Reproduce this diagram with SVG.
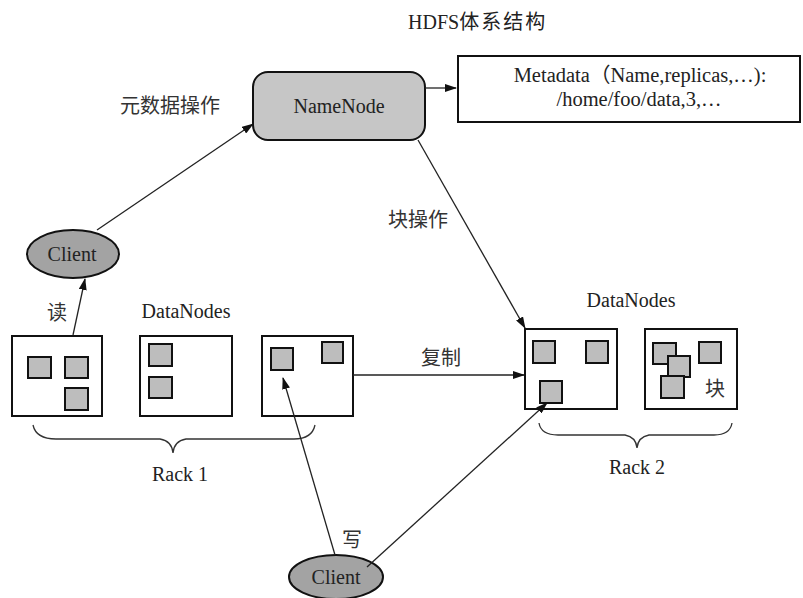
<svg xmlns="http://www.w3.org/2000/svg" width="803" height="598" viewBox="0 0 803 598">
<style>
.t{font-family:"Liberation Serif","Times New Roman","DejaVu Serif",serif;font-size:20px;fill:#222}
.c{font-family:"Noto Sans CJK SC",sans-serif;font-size:20px;fill:#333}
.box{fill:#fff;stroke:#111;stroke-width:2}
.blk{fill:#bdbdbd;stroke:#111;stroke-width:2}
.ln{fill:none;stroke:#222;stroke-width:1.3}
.br{fill:none;stroke:#333;stroke-width:1.3}
</style>
<defs>
<marker id="ah" markerWidth="12" markerHeight="8" refX="11" refY="4" orient="auto" markerUnits="userSpaceOnUse">
<path d="M0,0 L12,4 L0,8 Z" fill="#111"/>
</marker>
</defs>
<rect width="803" height="598" fill="#fff"/>
<text class="t" x="408" y="29">HDFS<tspan style="font-family:'Noto Sans CJK SC',sans-serif;font-size:20px;letter-spacing:2px">体系结构</tspan></text>

<g id="namenode">
<rect x="253" y="72" width="172" height="68" rx="15" fill="#c6c6c6" stroke="#111" stroke-width="2"/>
<text class="t" x="339" y="113" text-anchor="middle">NameNode</text>
</g>

<g id="metadata">
<rect class="box" x="458" y="56" width="342" height="66"/>
<text class="t" x="640" y="82" text-anchor="middle" style="font-size:20.5px">Metadata<tspan style="font-family:'Noto Sans CJK SC',sans-serif">（</tspan>Name,replicas,…):</text>
<text class="t" x="639" y="106" text-anchor="middle" style="font-size:20.5px">/home/foo/data,3,…</text>
</g>

<g id="client1">
<ellipse cx="73" cy="254" rx="46" ry="24" fill="#a3a3a3" stroke="#111" stroke-width="2"/>
<text class="t" x="72" y="261" text-anchor="middle">Client</text>
</g>

<g id="client2">
<ellipse cx="336" cy="577" rx="47" ry="22" fill="#a3a3a3" stroke="#111" stroke-width="2"/>
<text class="t" x="336" y="584" text-anchor="middle">Client</text>
</g>

<g id="rack1">
<text class="t" x="186" y="318" text-anchor="middle">DataNodes</text>
<rect class="box" x="12" y="336" width="90" height="80"/>
<rect class="blk" x="28" y="357" width="23" height="21"/>
<rect class="blk" x="65" y="357" width="23" height="21"/>
<rect class="blk" x="65" y="388" width="23" height="22"/>
<rect class="box" x="140" y="336" width="92" height="80"/>
<rect class="blk" x="149" y="344" width="23" height="22"/>
<rect class="blk" x="149" y="377" width="23" height="21"/>
<rect class="box" x="262" y="336" width="91" height="80"/>
<rect class="blk" x="271" y="348" width="22" height="22"/>
<rect class="blk" x="322" y="342" width="21" height="21"/>
<path class="br" d="M33,425 Q36,439 56,439 L160,439 Q172,441 173,453 Q174,441 186,439 L294,439 Q312,439 315,425"/>
<text class="t" x="180" y="481" text-anchor="middle">Rack 1</text>
</g>

<g id="rack2">
<text class="t" x="631" y="307" text-anchor="middle">DataNodes</text>
<rect class="box" x="525" y="329" width="92" height="80"/>
<rect class="blk" x="533" y="341" width="22" height="22"/>
<rect class="blk" x="586" y="341" width="22" height="22"/>
<rect class="blk" x="540" y="381" width="22" height="22"/>
<rect class="box" x="645" y="329" width="92" height="80"/>
<rect class="blk" x="653" y="343" width="23" height="21"/>
<rect class="blk" x="668" y="356" width="22" height="21"/>
<rect class="blk" x="661" y="376" width="23" height="22"/>
<rect class="blk" x="699" y="342" width="22" height="21"/>
<text class="c" x="715" y="396" text-anchor="middle">块</text>
<path class="br" d="M539,423 Q541,435 558,435 L625,435 Q636,437 637,448 Q638,437 649,435 L714,435 Q730,435 732,423"/>
<text class="t" x="637" y="474" text-anchor="middle">Rack 2</text>
</g>

<g id="connectors">
<line class="ln" x1="97" y1="230" x2="253" y2="124" marker-end="url(#ah)"/>
<line class="ln" x1="425" y1="88" x2="456" y2="88" marker-end="url(#ah)"/>
<line class="ln" x1="73" y1="335" x2="85" y2="279" marker-end="url(#ah)"/>
<line class="ln" x1="418" y1="140" x2="525" y2="328" marker-end="url(#ah)"/>
<line class="ln" x1="353" y1="375" x2="524" y2="375" marker-end="url(#ah)"/>
<line class="ln" x1="335" y1="555" x2="283" y2="378" marker-end="url(#ah)"/>
<line class="ln" x1="367" y1="567" x2="547" y2="403" marker-end="url(#ah)"/>
<text class="c" x="170" y="113" text-anchor="middle">元数据操作</text>
<text class="c" x="418" y="227" text-anchor="middle">块操作</text>
<text class="c" x="57" y="320" text-anchor="middle">读</text>
<text class="c" x="441" y="365" text-anchor="middle">复制</text>
<text class="c" x="352" y="547" text-anchor="middle">写</text>
</g>
</svg>
